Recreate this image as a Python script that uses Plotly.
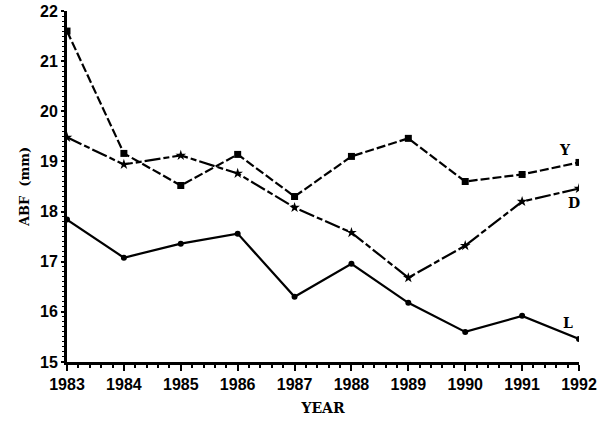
import plotly.graph_objects as go

years = [1983, 1984, 1985, 1986, 1987, 1988, 1989, 1990, 1991, 1992]
y_series = [21.6, 19.16, 18.52, 19.14, 18.3, 19.1, 19.46, 18.6, 18.74, 18.98]
d_series = [19.48, 18.94, 19.12, 18.76, 18.08, 17.58, 16.68, 17.32, 18.2, 18.46]
l_series = [17.84, 17.08, 17.36, 17.56, 16.3, 16.96, 16.18, 15.6, 15.92, 15.46]
series_labels = ["Y", "D", "L"]
label_pos = [(1991.76, 19.22), (1991.92, 18.18), (1991.8, 15.78)]
y_ticks = [15, 16, 17, 18, 19, 20, 21, 22]

SERIF = "DejaVu Serif, Liberation Serif, serif"
SANS = "Liberation Sans, Arial, sans-serif"

fig = go.Figure()
fig.add_trace(go.Scatter(x=years, y=y_series, mode="lines+markers",
                         line=dict(color="black", width=2.2, dash="9px,3px"),
                         marker=dict(symbol="square", size=7, color="black")))
fig.add_trace(go.Scatter(x=years, y=d_series, mode="lines+markers",
                         line=dict(color="black", width=2.2, dash="16px,3px,6px,3px"),
                         marker=dict(symbol="star", size=8, color="black")))
fig.add_trace(go.Scatter(x=years, y=l_series, mode="lines+markers",
                         line=dict(color="black", width=2.2),
                         marker=dict(symbol="circle", size=6, color="black")))

for lab, (lx, ly) in zip(series_labels, label_pos):
    fig.add_annotation(x=lx, y=ly, text="<b>%s</b>" % lab, showarrow=False,
                       font=dict(family=SERIF, size=14, color="black"))

fig.update_layout(
    width=600, height=423,
    margin=dict(l=67, r=21, t=11, b=61),
    paper_bgcolor="white", plot_bgcolor="white",
    showlegend=False,
    font=dict(family=SANS, color="black"),
)
fig.update_xaxes(
    range=[1983, 1992], tickvals=years, ticktext=["<b>%d</b>" % y for y in years],
    tickfont=dict(size=16, family=SANS), ticklabeloverflow="allow", automargin=False,
    showline=True, linecolor="black", linewidth=2.5, mirror=False,
    ticks="outside", ticklen=6, tickwidth=2, tickcolor="black",
    minor=dict(ticks="outside", ticklen=3, tickwidth=1.5, tickcolor="black", dtick=0.2),
    showgrid=False, zeroline=False,
    title=dict(text="<b>YEAR</b>", font=dict(family=SERIF, size=14), standoff=12),
)
fig.update_yaxes(
    range=[15, 22], tickvals=y_ticks, ticktext=["<b>%d</b>" % v for v in y_ticks],
    tickfont=dict(size=16, family=SANS), ticklabeloverflow="allow", automargin=False,
    showline=True, linecolor="black", linewidth=3, mirror=False,
    ticks="outside", ticklen=3, tickwidth=2, tickcolor="black",
    minor=dict(ticks="outside", ticklen=2, tickwidth=1, tickcolor="black", dtick=0.1),
    showgrid=False, zeroline=False,
    title=dict(text="<b>ABF  (mm)</b>", font=dict(family=SERIF, size=13), standoff=8),
)

fig.write_html("out.html", config={"displayModeBar": False},
               post_script="document.body.style.margin='0';")
